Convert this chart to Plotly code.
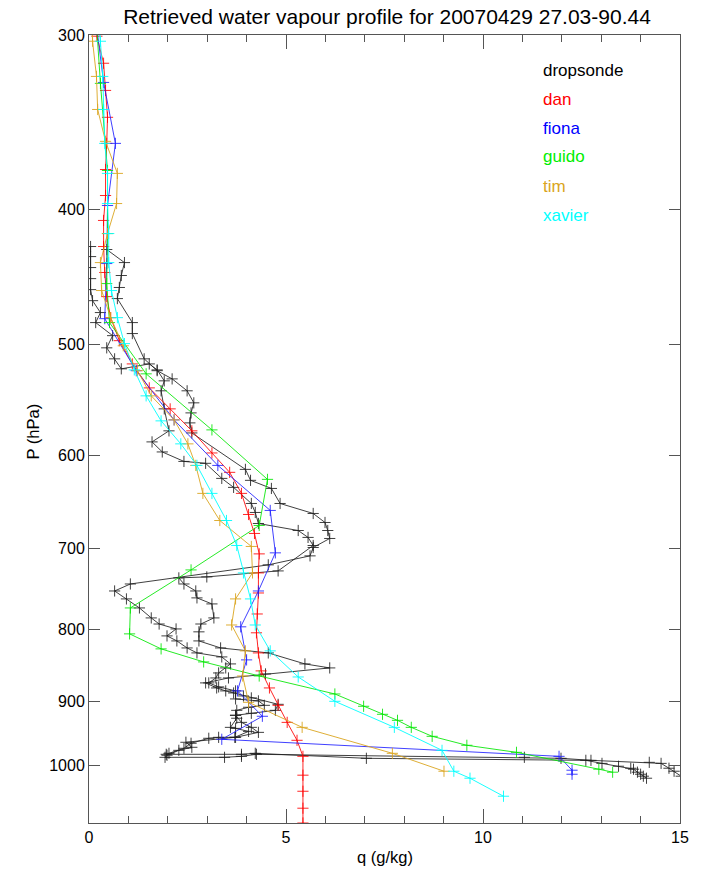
import plotly.graph_objects as go

# ---------------- data (q in g/kg, p in hPa) ----------------
dan_q = [0.20, 0.37, 0.42, 0.47, 0.45, 0.42, 0.42, 0.37, 0.37, 0.40, 0.45, 0.55, 0.77, 1.10, 1.53, 2.06,
         2.61, 3.12, 3.57, 3.87, 4.05, 4.20, 4.32, 4.30, 4.30, 4.27, 4.25, 4.30, 4.37, 4.58, 4.80, 5.03,
         5.28, 5.43, 5.43, 5.43, 5.43, 5.43]
dan_p = [300.6, 314.3, 328.7, 343.6, 358.7, 374.5, 390.9, 407.3, 425.2, 443.8, 461.8, 478.1, 496.6, 516.0,
         536.8, 555.7, 576.2, 597.6, 617.0, 638.8, 661.4, 682.4, 705.8, 728.3, 752.8, 779.3, 803.9, 831.0,
         856.0, 880.4, 906.0, 931.8, 959.8, 985.5, 1016.6, 1043.9, 1073.5, 1100.0]

fiona_q = [0.17, 0.37, 0.67, 0.47, 0.45, 0.40, 1.20, 2.16, 3.27, 4.60, 4.73, 4.30, 3.85, 4.00, 3.77, 4.40,
           3.37, 11.93, 12.26, 12.26]
fiona_p = [292.3, 324.4, 358.7, 397.4, 437.3, 478.9, 521.8, 565.9, 610.0, 657.0, 704.6, 750.3, 796.0, 840.6,
           884.7, 922.5, 958.2, 985.5, 1008.3, 1015.0]

guido_q = [0.15, 0.29, 0.47, 0.47, 0.45, 0.52, 1.45, 3.12, 4.53, 4.32, 2.59, 1.05, 1.03, 1.83, 2.91, 4.32,
           6.24, 6.97, 7.45, 7.83, 8.18, 8.71, 9.59, 10.85, 12.94, 13.29]
guido_p = [283.3, 324.9, 375.1, 416.2, 452.0, 482.0, 524.5, 575.3, 624.2, 673.5, 724.7, 771.6, 805.3, 825.5,
           843.4, 863.2, 889.2, 907.4, 919.5, 928.7, 939.5, 953.5, 967.7, 979.0, 1006.6, 1011.6]

tim_q = [0.07, 0.09, 0.19, 0.22, 0.42, 0.72, 0.70, 0.47, 0.29, 0.32, 0.55, 0.87, 1.23, 1.58, 2.16, 2.51,
         2.71, 2.89, 3.32, 4.12, 4.15, 3.72, 3.62, 3.97, 3.90, 4.05, 5.41, 7.70, 9.01]
tim_p = [287.5, 303.1, 321.2, 339.2, 357.5, 376.9, 396.1, 416.2, 436.6, 457.2, 478.1, 500.8, 521.8, 543.9,
         565.9, 588.7, 610.0, 638.8, 668.0, 697.2, 728.3, 760.2, 793.6, 828.2, 863.2, 901.5, 939.5, 980.6,
         1010.0]

xavier_q = [0.19, 0.29, 0.35, 0.37, 0.40, 0.47, 0.47, 0.50, 0.50, 0.57, 0.72, 0.90, 1.15, 1.45, 1.83, 2.33,
            2.74, 3.12, 3.49, 3.75, 3.92, 4.10, 4.22, 4.60, 5.31, 6.24, 7.75, 8.96, 9.26, 9.67, 10.52]
xavier_p = [287.5, 303.1, 321.2, 339.2, 358.7, 376.9, 396.1, 416.2, 436.6, 457.2, 478.1, 499.0, 521.1,
            543.9, 566.8, 588.7, 610.0, 638.8, 668.0, 696.1, 728.3, 760.2, 793.6, 828.2, 864.6, 900.0,
            939.5, 975.8, 1010.0, 1021.7, 1052.5]

# dropsonde, drawn as two recorded segments
sonde_a_q = [0.04, 0.04, 0.04, 0.04, 0.04, 0.09, 0.29, 0.17, 0.60, 0.45, 0.65, 0.82, 1.53, 1.73, 1.91, 1.83,
             1.91, 2.03, 1.60, 1.86, 2.41, 2.96, 3.37, 3.67, 4.12, 4.22, 4.30, 5.31, 5.56, 5.69, 4.80, 2.99,
             2.28, 2.41, 2.71, 2.74, 3.12, 3.17, 2.84, 2.79, 2.79, 3.34, 4.55, 5.48, 6.11, 4.48, 3.54, 2.96,
             3.24, 3.47, 3.67, 3.92, 4.12, 4.80, 4.73, 4.12, 3.72, 3.87, 4.12, 4.30, 3.72, 3.29, 3.04, 2.59,
             2.41, 2.03, 1.96, 3.87, 4.22, 7.04, 12.61, 13.02, 13.44, 13.75, 13.82, 13.92, 14.00, 14.07, 14.15]
sonde_a_p = [425.2, 432.3, 440.2, 448.3, 456.5, 464.9, 474.1, 482.0, 492.5, 502.5, 511.7, 520.2, 516.0,
             521.1, 530.6, 539.4, 555.7, 576.2, 586.8, 596.6, 606.0, 607.9, 623.2, 632.5, 649.5, 659.2,
             671.3, 679.1, 686.9, 696.1, 725.9, 733.1, 734.3, 741.7, 750.3, 758.9, 766.5, 784.4, 792.3,
             802.6, 814.7, 824.2, 831.0, 846.2, 851.8, 860.3, 866.0, 873.1, 880.4, 884.7, 887.7, 892.1,
             895.0, 904.5, 913.5, 918.0, 921.0, 931.8, 939.5, 947.3, 955.1, 955.1, 956.6, 964.5, 972.5,
             980.6, 982.2, 982.2, 980.6, 988.7, 992.0, 997.0, 1001.7, 1005.0, 1006.6, 1011.6, 1015.0,
             1018.3, 1021.7]

sonde_b_q = [0.45, 0.90, 0.82, 0.77, 0.72, 1.10, 1.10, 1.40, 1.73, 2.11, 2.49, 2.66, 2.59, 2.56, 2.61, 3.97,
             4.10, 4.63, 4.85, 5.69, 5.99, 6.06, 6.11, 5.69, 5.61, 4.55, 1.05, 0.65, 0.95, 1.28, 1.58, 1.78,
             2.21, 1.98, 2.23, 2.49, 2.74, 3.37, 3.59, 3.47, 3.29, 3.22, 3.04, 3.29, 3.72, 3.72, 4.30, 4.45,
             4.05, 3.75, 3.72, 3.75, 3.59, 3.72, 4.05, 3.70, 2.46, 2.61, 2.28, 1.98, 1.93, 3.44, 3.87, 4.25,
             11.05, 11.98, 12.74, 14.22, 14.52, 14.72, 14.85, 15.03, 15.18]
sonde_b_p = [427.3, 436.6, 446.0, 454.9, 463.3, 482.0, 490.8, 511.7, 521.8, 528.9, 539.4, 550.2, 559.4,
             568.7, 578.2, 614.0, 625.2, 633.6, 649.5, 660.3, 670.2, 679.1, 688.1, 698.4, 708.1, 718.7,
             741.7, 750.3, 760.2, 771.6, 784.4, 792.3, 798.8, 808.0, 814.7, 824.2, 831.0, 836.5, 846.2,
             851.8, 858.9, 866.0, 873.1, 878.9, 884.7, 896.5, 899.4, 906.0, 908.9, 913.5, 921.0, 925.5,
             939.5, 941.1, 945.8, 955.1, 962.9, 970.9, 975.8, 983.8, 987.1, 987.1, 985.5, 982.2, 987.1,
             988.7, 992.0, 995.3, 997.0, 1005.0, 1010.0, 1018.3, 1025.1]

legend_names = ["dropsonde", "dan", "fiona", "guido", "tim", "xavier"]
legend_colors = ["#000000", "#ff0000", "#0000ff", "#00ee00", "#daa520", "#00ffff"]

x_ticks = [0, 5, 10, 15]
p_ticks = [300, 400, 500, 600, 700, 800, 900, 1000]

# ---------------- figure ----------------
fig = go.Figure()


def add_series(q, p, color):
    fig.add_trace(go.Scatter(
        x=q, y=p, mode="lines+markers",
        line=dict(color=color, width=1),
        marker=dict(symbol="cross-thin", size=8, line=dict(color=color, width=1)),
        showlegend=False, hoverinfo="skip"))


sonde_col = "rgba(30,30,30,0.85)"
add_series(sonde_a_q, sonde_a_p, sonde_col)
add_series(sonde_b_q, sonde_b_p, sonde_col)
add_series(dan_q, dan_p, "rgba(255,0,0,0.85)")
add_series(fiona_q, fiona_p, "rgba(30,30,255,0.85)")
add_series(guido_q, guido_p, "rgba(0,230,0,0.85)")
add_series(tim_q, tim_p, "rgba(218,165,32,0.9)")
add_series(xavier_q, xavier_p, "rgba(0,255,255,0.9)")

font_family = "Liberation Sans, Arial, Helvetica, sans-serif"
plot_l, plot_r, plot_t, plot_b = 89, 685, 35, 823


def dom_x(px):
    return (px - plot_l) / (plot_r - plot_l)


def dom_y(py):
    return 1 - (py - plot_t) / (plot_b - plot_t)


# legend as coloured labels
for i, (name, col) in enumerate(zip(legend_names, legend_colors)):
    fig.add_annotation(
        x=dom_x(545), y=dom_y(70 + 29 * i), xref="x domain", yref="y domain",
        text=name, showarrow=False, xanchor="left", yanchor="middle",
        font=dict(size=17, color=col, family=font_family))

# axis titles
fig.add_annotation(x=0.5, y=dom_y(857), xref="x domain", yref="y domain",
                   text="q (g/kg)", showarrow=False, xanchor="center", yanchor="middle",
                   font=dict(size=16.5, color="black", family=font_family))
fig.add_annotation(x=dom_x(33), y=dom_y(431),
                   xref="x domain", yref="y domain",
                   text="P (hPa)", showarrow=False, textangle=-90, xanchor="center", yanchor="middle",
                   font=dict(size=16.5, color="black", family=font_family))

axis_col = "#555555"
fig.update_layout(
    width=701, height=869,
    margin=dict(l=plot_l, r=701 - plot_r, t=plot_t, b=869 - plot_b),
    paper_bgcolor="white", plot_bgcolor="white",
    font=dict(family=font_family, size=16, color="black"),
    title=dict(text="Retrieved water vapour profile for 20070429 27.03-90.44",
               x=(plot_l + plot_r) / 2 / 701, xanchor="center",
               y=1 - 17 / 869, yanchor="middle",
               font=dict(size=21, color="black", family=font_family)),
    xaxis=dict(range=[0, 15], tickvals=x_ticks, ticktext=[str(v) for v in x_ticks],
               showgrid=False, zeroline=False, showline=True, linecolor=axis_col, linewidth=1,
               mirror="ticks", ticks="inside", ticklen=14, tickcolor=axis_col, tickwidth=1,
               minor=dict(dtick=1, ticks="inside", ticklen=7, tickcolor=axis_col, tickwidth=1,
                          showgrid=False),
               tickfont=dict(size=16, color="black")),
    yaxis=dict(type="log", range=[3.04139, 2.47712], tickvals=p_ticks,
               ticktext=[str(v) for v in p_ticks],
               showgrid=False, zeroline=False, showline=True, linecolor=axis_col, linewidth=1,
               mirror="ticks", ticks="inside", ticklen=11, tickcolor=axis_col, tickwidth=1,
               tickfont=dict(size=16, color="black")),
)

fig.write_html("out.html")
